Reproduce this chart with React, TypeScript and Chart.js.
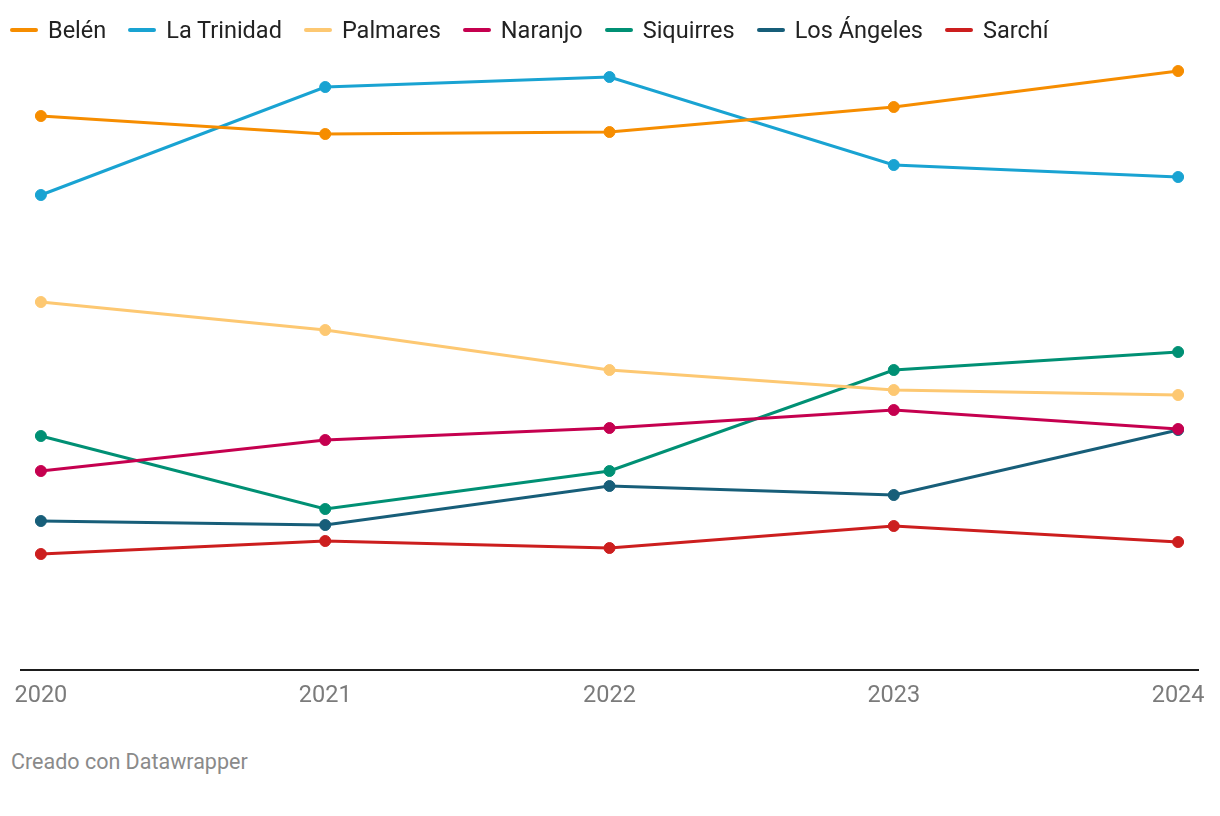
import React, { useEffect, useRef } from "react";
import { Chart, registerables } from "chart.js";

Chart.register(...registerables);

const years = [2020, 2021, 2022, 2023, 2024];
const seriesNames = ["Belén", "La Trinidad", "Palmares", "Naranjo", "Siquirres", "Los Ángeles", "Sarchí"];
const seriesColors = ["#f68d00", "#19a3d2", "#fdc872", "#c5004f", "#009074", "#175e79", "#cc1e1e"];

const belen = [554, 536, 538, 563, 599];
const laTrinidad = [475, 583, 593, 505, 493];
const palmares = [368, 340, 300, 280, 275];
const naranjo = [199, 230, 242, 260, 241];
const siquirres = [234, 161, 199, 300, 318];
const losAngeles = [149, 145, 184, 175, 240];
const sarchi = [116, 129, 122, 144, 128];

const seriesValues = [belen, laTrinidad, palmares, naranjo, siquirres, losAngeles, sarchi];

export default function App() {
  const canvasRef = useRef<HTMLCanvasElement | null>(null);

  useEffect(() => {
    document.body.style.margin = "0";
    const ctx = canvasRef.current;
    if (!ctx) return;
    const chart = new Chart(ctx, {
      type: "line",
      data: {
        datasets: seriesNames.map((name, i) => ({
          label: name,
          data: years.map((yr, j) => ({ x: yr, y: seriesValues[i][j] })),
          borderColor: seriesColors[i],
          backgroundColor: seriesColors[i],
          pointBackgroundColor: seriesColors[i],
          pointBorderColor: seriesColors[i],
          borderWidth: 3,
          pointRadius: 5.5,
          pointBorderWidth: 1,
          tension: 0,
          clip: false as any,
        })),
      },
      options: {
        animation: false,
        responsive: false,
        maintainAspectRatio: false,
        layout: { padding: { left: 21, right: 22, top: 49, bottom: 0 } },
        plugins: {
          legend: { display: false },
          tooltip: { enabled: false },
        },
        scales: {
          x: {
            type: "linear",
            min: 2019.93,
            max: 2024.07,
            afterBuildTicks: (scale: any) => {
              scale.ticks = years.map((v) => ({ value: v }));
            },
            afterFit: (scale: any) => {
              scale.height = 40;
            },
            grid: { display: false, drawTicks: false },
            border: { display: true, color: "#1d1d1d", width: 2 },
            ticks: {
              padding: 12,
              color: "#7b7b7b",
              font: { family: "Roboto", size: 23.5 },
              maxRotation: 0,
              autoSkip: false,
              callback: (v: any) => String(v),
            },
          },
          y: {
            display: false,
            min: 0,
            max: 620,
          },
        },
      },
    });
    return () => chart.destroy();
  }, []);

  return (
    <div style={{ position: "relative", width: 1220, height: 816, background: "#fff", fontFamily: "Roboto" }}>
      <canvas ref={canvasRef} width={1220} height={709} style={{ position: "absolute", left: 0, top: 1 }} />
      <div
        style={{
          position: "absolute",
          left: 10,
          top: 15,
          display: "flex",
          alignItems: "center",
          height: 30,
        }}
      >
        {seriesNames.map((name, i) => (
          <div key={name} style={{ display: "flex", alignItems: "center", marginRight: 22 }}>
            <span
              style={{
                display: "inline-block",
                width: 28,
                height: 4,
                borderRadius: 2,
                background: seriesColors[i],
                marginRight: 10,
              }}
            />
            <span style={{ fontSize: 23.5, color: "#222", lineHeight: "30px" }}>{name}</span>
          </div>
        ))}
      </div>
      <div
        style={{
          position: "absolute",
          left: 11,
          top: 748,
          fontSize: 21.5,
          color: "#8a8a8a",
          lineHeight: "28px",
        }}
      >
        Creado con Datawrapper
      </div>
    </div>
  );
}
